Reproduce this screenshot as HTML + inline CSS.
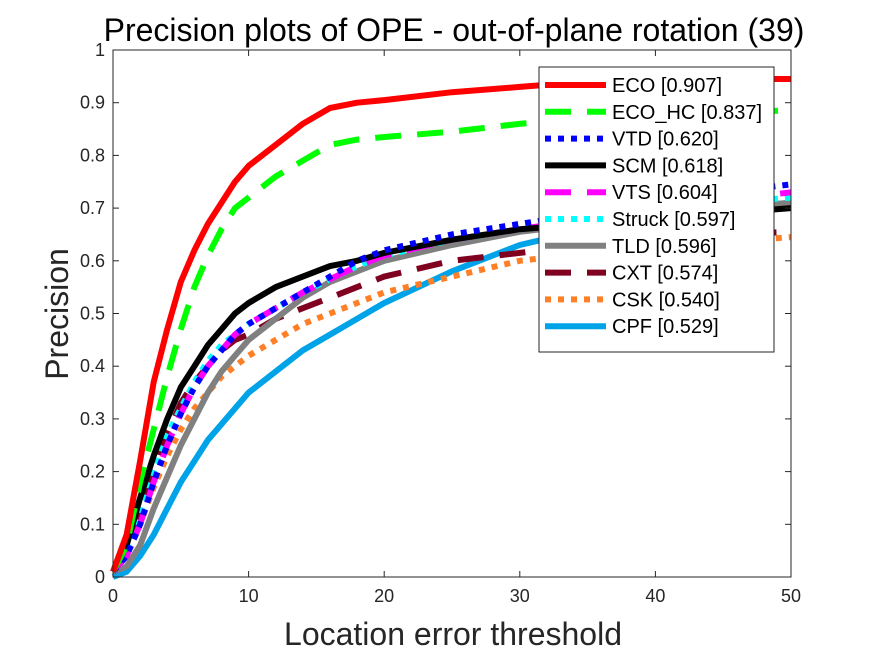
<!DOCTYPE html>
<html><head><meta charset="utf-8"><style>
body{margin:0;background:#fff;}
svg{display:block;font-family:"Liberation Sans",Arial,sans-serif;}
</style></head><body>
<svg id="chart" width="875" height="656">
<rect x="0" y="0" width="875" height="656" fill="#fff"/>
<text x="454" y="41" font-size="32" text-anchor="middle" fill="#000">Precision plots of OPE - out-of-plane rotation (39)</text>
<g id="marks"></g>
<rect x="113" y="50" width="678" height="527" fill="none" stroke="#262626" stroke-width="1"/>
<g id="axes"></g>
<text x="453" y="645" font-size="32" text-anchor="middle" fill="#262626">Location error threshold</text>
<text transform="translate(68,314) rotate(-90)" font-size="32" text-anchor="middle" fill="#262626">Precision</text>
<g id="legend"></g>
</svg>
<script>
const thresholds=[0,1,2,3,4,5,6,7,8,9,10,12,14,16,18,20,25,30,35,40,45,50];
const seriesNames=["ECO [0.907]","ECO_HC [0.837]","VTD [0.620]","SCM [0.618]","VTS [0.604]","Struck [0.597]","TLD [0.596]","CXT [0.574]","CSK [0.540]","CPF [0.529]"];
const ecoVals=[0.01,0.08,0.22,0.37,0.47,0.56,0.62,0.67,0.71,0.75,0.78,0.82,0.86,0.89,0.90,0.905,0.92,0.93,0.94,0.945,0.945,0.945];
const ecoHcVals=[0.01,0.06,0.18,0.28,0.38,0.47,0.55,0.61,0.66,0.70,0.72,0.76,0.79,0.82,0.83,0.835,0.845,0.86,0.87,0.88,0.883,0.885];
const vtdVals=[0.01,0.04,0.10,0.18,0.25,0.31,0.36,0.40,0.43,0.46,0.48,0.51,0.54,0.57,0.60,0.62,0.65,0.67,0.69,0.71,0.73,0.745];
const scmVals=[0.01,0.06,0.15,0.23,0.30,0.36,0.40,0.44,0.47,0.50,0.52,0.55,0.57,0.59,0.60,0.615,0.64,0.66,0.67,0.68,0.69,0.70];
const vtsVals=[0.01,0.04,0.10,0.18,0.25,0.31,0.36,0.40,0.43,0.46,0.48,0.51,0.54,0.565,0.59,0.61,0.64,0.66,0.68,0.70,0.715,0.73];
const struckVals=[0.01,0.05,0.12,0.20,0.27,0.32,0.37,0.41,0.44,0.46,0.48,0.51,0.54,0.565,0.59,0.61,0.64,0.66,0.68,0.70,0.71,0.72];
const tldVals=[0.01,0.02,0.06,0.13,0.19,0.25,0.30,0.35,0.39,0.42,0.45,0.49,0.53,0.56,0.58,0.60,0.63,0.655,0.67,0.685,0.70,0.71];
const cxtVals=[0.01,0.05,0.12,0.20,0.27,0.33,0.37,0.40,0.43,0.45,0.46,0.49,0.51,0.53,0.55,0.57,0.60,0.615,0.63,0.64,0.65,0.655];
const cskVals=[0.01,0.04,0.10,0.17,0.23,0.28,0.32,0.35,0.38,0.40,0.42,0.45,0.48,0.50,0.52,0.54,0.57,0.60,0.615,0.625,0.635,0.645];
const cpfVals=[0.0,0.01,0.04,0.08,0.13,0.18,0.22,0.26,0.29,0.32,0.35,0.39,0.43,0.46,0.49,0.52,0.58,0.63,0.66,0.68,0.70,0.71];
const xTicks=[0,10,20,30,40,50];
const yTicks=[0,0.1,0.2,0.3,0.4,0.5,0.6,0.7,0.8,0.9,1];
const yTickLabels=["0","0.1","0.2","0.3","0.4","0.5","0.6","0.7","0.8","0.9","1"];

const X0=113,X1=791,Y0=577,Y1=50;
function sx(v){return X0+(v/50)*(X1-X0);}
function sy(v){return Y0-v*(Y0-Y1);}
const NS="http://www.w3.org/2000/svg";
const styles=[
 {c:"#ff0000",d:""},{c:"#00ff00",d:"26 16"},{c:"#0000ff",d:"6 7"},{c:"#000000",d:""},
 {c:"#ff00ff",d:"26 16"},{c:"#00ffff",d:"6 7"},{c:"#808080",d:""},{c:"#800020",d:"26 16"},
 {c:"#ff7f27",d:"6 7"},{c:"#00a2e8",d:""}];
const allVals=[ecoVals,ecoHcVals,vtdVals,scmVals,vtsVals,struckVals,tldVals,cxtVals,cskVals,cpfVals];
const slugs=["eco","eco-hc","vtd","scm","vts","struck","tld","cxt","csk","cpf"];
const marks=document.getElementById("marks");
for(let i=allVals.length-1;i>=0;i--){
  const p=document.createElementNS(NS,"path");
  let d="";
  allVals[i].forEach((v,k)=>{d+=(k?"L":"M")+sx(thresholds[k]).toFixed(1)+","+sy(v).toFixed(1);});
  p.setAttribute("d",d);p.setAttribute("fill","none");p.setAttribute("stroke",styles[i].c);
  p.setAttribute("stroke-width","6");if(styles[i].d)p.setAttribute("stroke-dasharray",styles[i].d);
  p.setAttribute("stroke-linejoin","round");
  
  
  marks.appendChild(p);
}
const axes=document.getElementById("axes");
xTicks.forEach(t=>{
  const x=sx(t);
  [[Y0,Y0-6],[Y1,Y1+6]].forEach(([a,b])=>{const l=document.createElementNS(NS,"line");l.setAttribute("x1",x);l.setAttribute("x2",x);l.setAttribute("y1",a);l.setAttribute("y2",b);l.setAttribute("stroke","#262626");
  
  
  axes.appendChild(l);});
  const tx=document.createElementNS(NS,"text");tx.setAttribute("x",x);tx.setAttribute("y",Y0+25);tx.setAttribute("font-size","18");tx.setAttribute("text-anchor","middle");tx.setAttribute("fill","#262626");tx.textContent=t;
  
  
  axes.appendChild(tx);
});
yTicks.forEach((t,i)=>{
  const y=sy(t);
  [[X0,X0+6],[X1,X1-6]].forEach(([a,b])=>{const l=document.createElementNS(NS,"line");l.setAttribute("x1",a);l.setAttribute("x2",b);l.setAttribute("y1",y);l.setAttribute("y2",y);l.setAttribute("stroke","#262626");
  
  
  axes.appendChild(l);});
  const tx=document.createElementNS(NS,"text");tx.setAttribute("x",X0-8);tx.setAttribute("y",y+6);tx.setAttribute("font-size","18");tx.setAttribute("text-anchor","end");tx.setAttribute("fill","#262626");tx.textContent=yTickLabels[i];
  
  
  axes.appendChild(tx);
});
const lg=document.getElementById("legend");
const box=document.createElementNS(NS,"rect");
box.setAttribute("x",539);box.setAttribute("y",67);box.setAttribute("width",235);box.setAttribute("height",285);box.setAttribute("fill","#fff");box.setAttribute("stroke","#262626");


lg.appendChild(box);
seriesNames.forEach((n,i)=>{
  const y=85+i*26.8;
  const l=document.createElementNS(NS,"line");
  l.setAttribute("x1",545);l.setAttribute("x2",606);l.setAttribute("y1",y);l.setAttribute("y2",y);l.setAttribute("stroke",styles[i].c);l.setAttribute("stroke-width","6");
  if(styles[i].d)l.setAttribute("stroke-dasharray",styles[i].d);
  
  
  lg.appendChild(l);
  const t=document.createElementNS(NS,"text");
  t.setAttribute("x",612);t.setAttribute("y",y+7);t.setAttribute("font-size","20");t.setAttribute("fill","#000");t.textContent=n;
  
  
  lg.appendChild(t);
});
</script>
</body></html>
